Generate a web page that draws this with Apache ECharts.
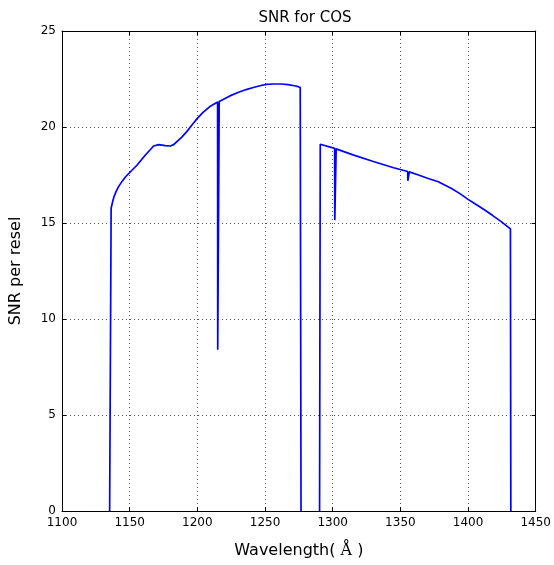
<!DOCTYPE html>
<html><head><meta charset="utf-8">
<script src="https://cdn.jsdelivr.net/npm/echarts@6/dist/echarts.min.js"></script>
<style>html,body{margin:0;padding:0;background:#fff}#c{width:554px;height:565px}</style>
</head><body><div id="c"></div>
<script>
var wavelength = [1135.2, 1136.3, 1137.2, 1138.4, 1140.0, 1142.0, 1144.5, 1147.0, 1150.6, 1155.5, 1161.6, 1165.0, 1167.7, 1171.4, 1176.3, 1180.0, 1182.5, 1184.9, 1188.5, 1192.2, 1196.0, 1200.0, 1204.0, 1209.0, 1214.95, 1215.05, 1216.05, 1216.15, 1224.0, 1230.0, 1236.0, 1242.0, 1247.0, 1251.0, 1256.0, 1262.0, 1267.0, 1271.7, 1274.5, 1276.0, 1276.6,
  null,
  1290.3, 1290.8, 1301.45, 1301.55, 1302.45, 1302.55, 1315.0, 1330.0, 1345.0, 1355.4, 1355.5, 1356.5, 1356.6, 1363.4, 1370.0, 1378.0, 1387.8, 1394.0, 1400.0, 1406.0, 1412.3, 1418.0, 1424.5, 1431.3, 1431.6];
var snr = [0, 15.77, 16.05, 16.37, 16.65, 16.92, 17.18, 17.41, 17.67, 18.02, 18.54, 18.8, 19.01, 19.08, 19.03, 19.01, 19.08, 19.24, 19.47, 19.76, 20.1, 20.45, 20.75, 21.05, 21.3, 8.4, 8.4, 21.33, 21.62, 21.8, 21.95, 22.07, 22.16, 22.22, 22.24, 22.24, 22.21, 22.15, 22.1, 22.06, 0,
  null,
  0, 19.1, 18.89, 15.15, 15.15, 18.86, 18.55, 18.2, 17.88, 17.68, 17.2, 17.2, 17.66, 17.5, 17.33, 17.15, 16.8, 16.53, 16.23, 15.96, 15.68, 15.4, 15.07, 14.69, 0];
var xTicks = [1100, 1150, 1200, 1250, 1300, 1350, 1400, 1450];
var yTicks = [0, 5, 10, 15, 20, 25];

var pts = [];
for (var i = 0; i < wavelength.length; i++) {
  pts.push(wavelength[i] === null ? [null, null] : [wavelength[i], snr[i]]);
}

var font = 'DejaVu Sans';
var gridLine = {color: '#555', type: [1, 3], width: 1};
var chart = echarts.init(document.getElementById('c'));
chart.setOption({
  animation: false,
  backgroundColor: '#fff',
  title: {text: 'SNR for COS', left: 300, top: 6, textAlign: 'center',
    textStyle: {fontFamily: font, fontSize: 15, fontWeight: 'normal', color: '#000'}},
  grid: {left: 61, right: 16, top: 31, bottom: 54},
  xAxis: [{
    type: 'value', min: 1100, max: 1450, interval: 50,
    name: '{a|Wavelength( }{b|Å}{a| )}', nameLocation: 'middle', nameGap: 32,
    nameTextStyle: {rich: {a: {fontFamily: font, fontSize: 16, color: '#000'}, b: {fontFamily: 'DejaVu Serif', fontSize: 16, color: '#000'}}},
    axisLine: {show: true, onZero: false, lineStyle: {color: '#000', width: 1}},
    axisTick: {show: true, inside: true, length: 4, lineStyle: {color: '#000'}},
    axisLabel: {fontFamily: font, fontSize: 12, color: '#000', margin: 6,
      formatter: function (v) { return xTicks.indexOf(v) >= 0 ? String(v) : ''; }},
    splitLine: {show: true, lineStyle: gridLine}
  }, {
    type: 'value', position: 'top', min: 1100, max: 1450, interval: 50,
    axisLine: {show: true, onZero: false, lineStyle: {color: '#000', width: 1}},
    axisTick: {show: true, inside: true, length: 4, lineStyle: {color: '#000'}},
    axisLabel: {show: false}, splitLine: {show: false}
  }],
  yAxis: [{
    type: 'value', min: 0, max: 25, interval: 5,
    name: 'SNR per resel', nameLocation: 'middle', nameGap: 38,
    nameTextStyle: {fontFamily: font, fontSize: 16, color: '#000'},
    axisLine: {show: true, onZero: false, lineStyle: {color: '#000', width: 1}},
    axisTick: {show: true, inside: true, length: 4, lineStyle: {color: '#000'}},
    axisLabel: {fontFamily: font, fontSize: 12, color: '#000', margin: 6,
      formatter: function (v) { return yTicks.indexOf(v) >= 0 ? String(v) : ''; }},
    splitLine: {show: true, lineStyle: gridLine}
  }, {
    type: 'value', position: 'right', min: 0, max: 25, interval: 5,
    axisLine: {show: true, onZero: false, lineStyle: {color: '#000', width: 1}},
    axisTick: {show: true, inside: true, length: 4, lineStyle: {color: '#000'}},
    axisLabel: {show: false}, splitLine: {show: false}
  }],
  series: [{
    type: 'line', data: pts, showSymbol: false, symbol: 'none', connectNulls: false,
    lineStyle: {color: '#0000ff', width: 1.7}, z: 3
  }]
});
</script></body></html>
